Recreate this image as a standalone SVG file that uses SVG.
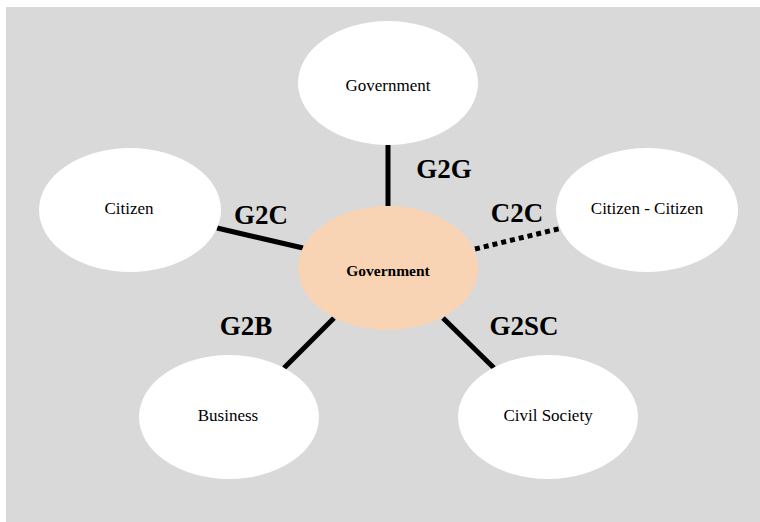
<svg xmlns="http://www.w3.org/2000/svg" width="760" height="522" viewBox="0 0 760 522">
<style>
.node{fill:#ffffff}
.hub{fill:#f9d4b4}
.t{font-family:"Liberation Serif","Times New Roman",serif;font-size:17px;fill:#000;text-anchor:middle}
.tb{font-family:"Liberation Serif","Times New Roman",serif;font-size:15.5px;font-weight:bold;fill:#000;text-anchor:middle}
.lbl{font-family:"Liberation Serif","Times New Roman",serif;font-size:27px;font-weight:bold;fill:#000;text-anchor:middle}
.c{stroke:#000;stroke-width:5;fill:none}
.d{stroke-dasharray:5 4}
</style>
<rect x="6" y="7" width="754" height="515" fill="#d9d9d9"/>
<g id="connectors">
<line class="c" x1="388" y1="144" x2="388" y2="206"/>
<line class="c" x1="217" y1="228" x2="303" y2="248"/>
<line class="c d" x1="475" y1="249" x2="562" y2="228"/>
<line class="c" x1="334" y1="318" x2="284" y2="368"/>
<line class="c" x1="443" y1="318" x2="494" y2="368"/>
<text class="lbl" x="444" y="178">G2G</text>
<text class="lbl" x="261" y="224">G2C</text>
<text class="lbl" x="517" y="222">C2C</text>
<text class="lbl" x="246" y="335">G2B</text>
<text class="lbl" x="524" y="335">G2SC</text>
</g>
<g id="gov-top">
<ellipse class="node" cx="388" cy="83" rx="90" ry="62"/>
<text class="t" x="388" y="91">Government</text>
</g>
<g id="citizen">
<ellipse class="node" cx="130" cy="210" rx="91" ry="62"/>
<text class="t" x="129" y="214">Citizen</text>
</g>
<g id="citizen-citizen">
<ellipse class="node" cx="647" cy="210" rx="91" ry="62"/>
<text class="t" x="647" y="214">Citizen - Citizen</text>
</g>
<g id="gov-center">
<ellipse class="hub" cx="388" cy="268" rx="90" ry="62"/>
<text class="tb" x="388" y="276">Government</text>
</g>
<g id="business">
<ellipse class="node" cx="229" cy="417" rx="90" ry="62"/>
<text class="t" x="228" y="421">Business</text>
</g>
<g id="civil-society">
<ellipse class="node" cx="548" cy="417" rx="90" ry="62"/>
<text class="t" x="548" y="421">Civil Society</text>
</g>
</svg>
